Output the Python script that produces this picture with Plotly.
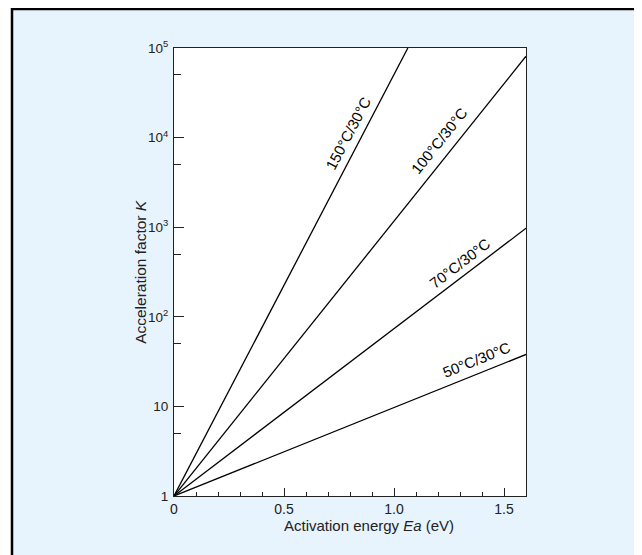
import plotly.graph_objects as go

# Data (start and end points of each straight line on log scale)
series_names = ["150°C/30°C", "100°C/30°C", "70°C/30°C", "50°C/30°C"]
ea_start = [0, 0, 0, 0]
k_start = [1, 1, 1, 1]
ea_end = [1.063, 1.6, 1.6, 1.6]
k_end = [1e5, 8.1e4, 973, 38]

# label positions (Ea, log10 K) and angles
label_ea = [0.79, 1.205, 1.297, 1.377]
label_logk = [4.05, 3.97, 2.60, 1.52]
label_angle = [-62.4, -51.4, -37.3, -21.9]

x_tickvals = [0, 0.5, 1.0, 1.5]
x_ticktext = ["0", "0.5", "1.0", "1.5"]
y_tickvals = [1, 10, 100, 1e3, 1e4, 1e5]
y_ticktext = ["1", "10", "10<sup>2</sup>", "10<sup>3</sup>", "10<sup>4</sup>", "10<sup>5</sup>"]
y_minor = [5, 50, 500, 5000, 50000]

FONT = "Liberation Sans, Arial, sans-serif"
BG = "#e7f3fd"

# page has an 8px body margin: figure is 634x547 placed at (8,8)
W, H = 634, 547
L, T = 166, 40
PW, PH = 352, 448
R, B = W - L - PW, H - T - PH

fig = go.Figure()
for i, name in enumerate(series_names):
    fig.add_trace(go.Scatter(
        x=[ea_start[i], ea_end[i]], y=[k_start[i], k_end[i]],
        mode="lines", line=dict(color="black", width=1.3),
        name=name, showlegend=False, hoverinfo="skip"))
    fig.add_annotation(x=label_ea[i], y=label_logk[i], text=name, showarrow=False,
                       textangle=label_angle[i], font=dict(size=15, color="black", family=FONT),
                       xanchor="center", yanchor="middle")

fig.update_xaxes(range=[0, 1.6], tickvals=x_tickvals, ticktext=x_ticktext,
                 ticks="inside", ticklen=8, tickcolor="#222", tickwidth=1,
                 minor=dict(dtick=0.1, tick0=0, ticks="inside", ticklen=4, tickcolor="#222"),
                 showline=True, linecolor="#222", linewidth=1.2, mirror=True,
                 showgrid=False, zeroline=False,
                 tickfont=dict(size=14, color="#222", family=FONT))
fig.update_yaxes(type="log", range=[0, 5], tickvals=y_tickvals, ticktext=y_ticktext,
                 ticks="inside", ticklen=10, tickcolor="#222", tickwidth=1,
                 minor=dict(tickvals=y_minor, ticks="inside", ticklen=7, tickcolor="#222"),
                 showline=True, linecolor="#222", linewidth=1.2, mirror=True,
                 showgrid=False, zeroline=False, ticklabelstandoff=2,
                 tickfont=dict(size=13.5, color="#222", family=FONT))

# axis titles as annotations
fig.add_annotation(xref="paper", yref="paper", x=0.554, y=-0.065,
                   text="Activation energy <i>Ea</i> (eV)", showarrow=False,
                   font=dict(size=15, color="#222", family=FONT), xanchor="center", yanchor="middle")
fig.add_annotation(xref="paper", yref="paper", x=-0.097, y=0.5,
                   text="Acceleration factor <i>K</i>", showarrow=False, textangle=-90,
                   font=dict(size=15.5, color="#222", family=FONT), xanchor="center", yanchor="middle")

# outer frame (in page px: left 12, top 9, right 638)
fx0 = (12 - 8 - L) / PW
fx1 = (638 - 8 - L) / PW
fy1 = 1 + (T - (9 - 8)) / PH
for (a, b, c, d) in [(-2, fx0, -2, 3), (fx1, 3, -2, 3), (-2, 3, fy1, 3)]:
    fig.add_shape(type="rect", xref="paper", yref="paper", x0=a, x1=b, y0=c, y1=d,
                  line=dict(width=0), fillcolor="white", layer="above")
fig.add_shape(type="rect", xref="paper", yref="paper",
              x0=fx0, x1=fx1, y0=-0.5, y1=fy1,
              line=dict(color="black", width=2.5), fillcolor="rgba(0,0,0,0)", layer="above")

fig.update_layout(width=W, height=H,
                  margin=dict(l=L, r=R, t=T, b=B, autoexpand=False),
                  paper_bgcolor=BG, plot_bgcolor="white",
                  font=dict(family=FONT, color="#222"))

fig.write_html("out.html")
